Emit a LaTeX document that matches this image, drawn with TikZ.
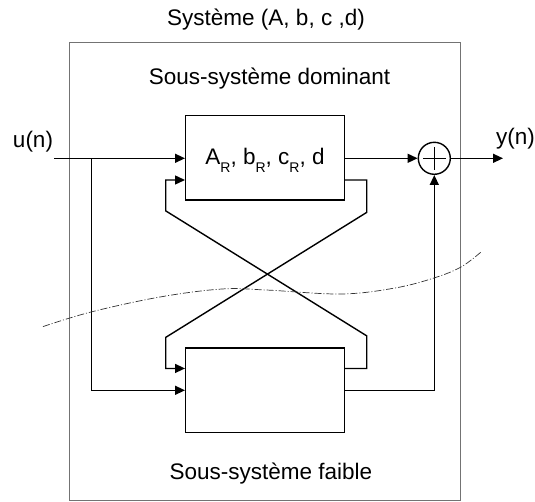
\documentclass[tikz,border=0pt]{standalone}
\usepackage{fontspec}
\setmainfont{Liberation Sans}
\usetikzlibrary{arrows.meta,calc}
\tikzset{
  blk/.style={draw, line width=1.4pt, minimum width=158.6pt, minimum height=84.3pt, inner sep=0pt},
  wire/.style={line width=1.4pt},
  arr/.style={wire, -{Triangle[length=10pt,width=9pt]}},
  lbl/.style={font=\fontsize{22.5}{25}\selectfont, inner sep=0pt, anchor=base},
  sysbox/.style={draw=black!55, line width=1pt, minimum width=391.2pt, minimum height=457.5pt, inner sep=0pt},
  cut/.style={draw=black!80, line width=0.7pt, dash pattern=on 7pt off 2pt on 1pt off 2pt},
}
\newcommand{\sbR}{\raisebox{-7.5pt}{\fontsize{14}{14}\selectfont R}}
\begin{document}
\begin{tikzpicture}[x=1pt,y=-1pt]
\useasboundingbox (0,0) rectangle (535,502);
\node[sysbox] (sys) at (265.1,271.75) {};
\node[lbl] (tsys) at (266,25.6) {Système (A, b, c ,d)};
\node[lbl] (tdom) at (269.5,85) {Sous-système dominant};
\node[lbl] (tfai) at (270.8,479.3) {Sous-système faible};
\node[blk] (top) at (265,157.85) {};
\node[lbl] (toplbl) at (265,165) {A\sbR, b\sbR, c\sbR, d};
\node[blk] (bot) at (265,390.3) {};
\node[draw, circle, line width=1.4pt, minimum size=32pt, inner sep=0pt] (sum) at (434.3,158.3) {};
\draw[wire] ($(sum.center)+(-11.3,0)$) -- ($(sum.center)+(11.3,0)$);
\draw[wire] ($(sum.center)+(0,-11.3)$) -- ($(sum.center)+(0,11.3)$);
\node[lbl] (ulbl) at (33,148) {u(n)};
\node[lbl] (ylbl) at (515.5,145) {y(n)};
\coordinate (in) at (54,158.3);
\coordinate (br) at (91.3,158.3);
\coordinate (out) at (503,158.3);
\draw[arr] (in) -- (top.west |- in);
\draw[arr] (br) |- (bot.west);
\draw[arr] (top.east |- in) -- (sum.west);
\draw[arr] (sum.east) -- (out);
\draw[arr] (bot.east) -| (sum.south);
\coordinate (ta) at ($(top.south east)+(0,-20.7)$);
\coordinate (tb) at ($(top.south west)+(0,-20.7)$);
\coordinate (ba) at ($(bot.north east)+(0,21)$);
\coordinate (bb) at ($(bot.north west)+(0,21)$);
\draw[arr] (ta) -- ++(21.7,0) -- ++(0,32.4) -- ++(-201,125) |- (bb);
\draw[arr] (ba) -- ++(21.7,0) -- ++(0,-32.6) -- ++(-201,-125) |- (tb);
\draw[cut] plot[smooth, tension=0.6] coordinates {(43,326.6) (91,312) (160,297) (222,289) (266,290) (341,294) (395,288) (434,278) (461,267) (481,252)};
\end{tikzpicture}
\end{document}
